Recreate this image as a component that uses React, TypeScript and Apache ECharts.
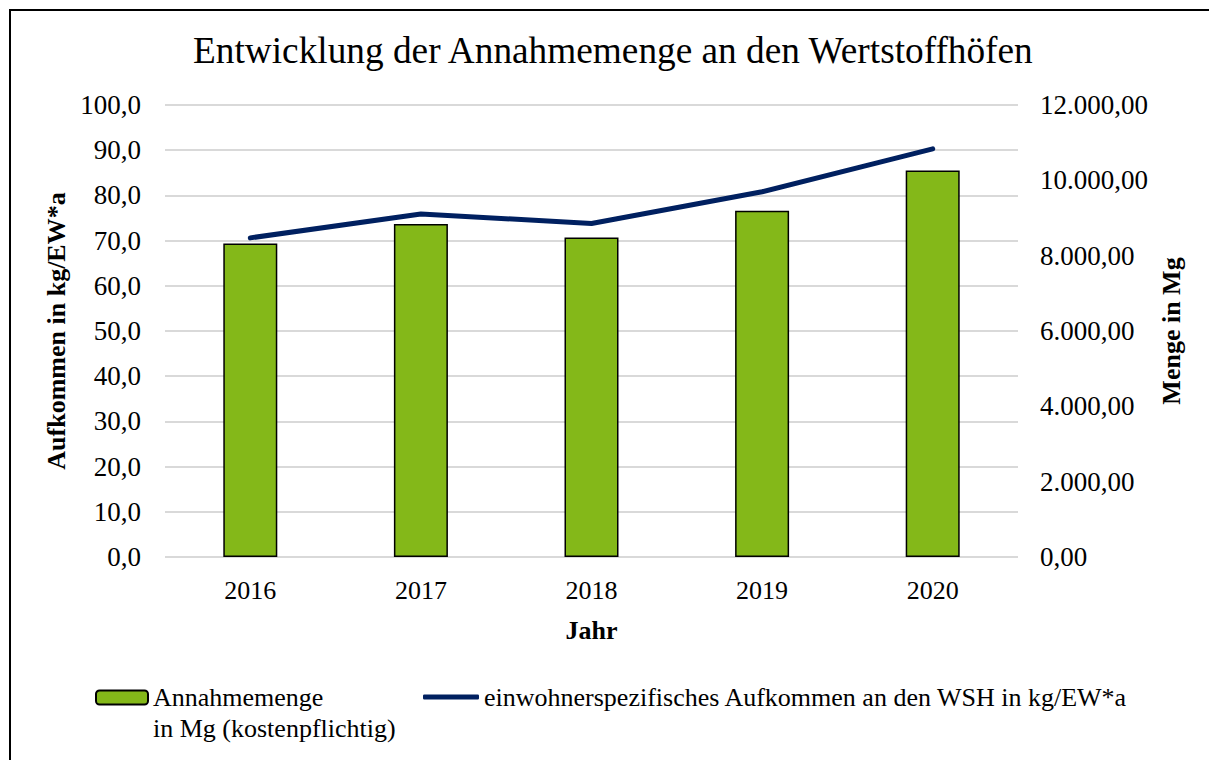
import React, { useEffect, useRef } from "react";
import * as echarts from "echarts";

const years = ["2016", "2017", "2018", "2019", "2020"];
const mengeMg = [8320, 8840, 8480, 9190, 10260];
const aufkommen = [70.6, 75.9, 73.8, 80.8, 90.3];
const barName = "Annahmemenge\nin Mg (kostenpflichtig)";
const lineName = "einwohnerspezifisches Aufkommen an den WSH in kg/EW*a";

const FONT = "Liberation Serif";

function fmtDe(v: number, dec: number) {
  const s = v.toFixed(dec);
  const [i, d] = s.split(".");
  const ii = i.replace(/\B(?=(\d{3})+(?!\d))/g, ".");
  return d !== undefined ? ii + "," + d : ii;
}

export default function App() {
  const ref = useRef<HTMLDivElement>(null);
  useEffect(() => {
    document.body.style.margin = "0";
    const chart = echarts.init(ref.current!, undefined, { renderer: "svg" });
    chart.setOption({
      animation: false,
      backgroundColor: "#ffffff",
      textStyle: { fontFamily: FONT, color: "#000" },
      title: {
        text: "Entwicklung der Annahmemenge an den Wertstoffhöfen",
        left: 188,
        top: 27,
        textStyle: { fontFamily: FONT, fontSize: 37.3, fontWeight: "normal", color: "#000" },
      },
      graphic: [
        {
          type: "polyline",
          shape: { points: [[1300, 10], [10, 10], [10, 800]] },
          style: { fill: "none", stroke: "#000", lineWidth: 2 },
          silent: true,
        },
      ],
      legend: [
        {
          left: 95,
          top: 651,
          padding: 0,
          itemWidth: 52,
          itemHeight: 14,
          data: [{ name: barName }],
          formatter: (n: string) => "\u00a0\n" + n,
          textStyle: {
            fontFamily: FONT,
            fontSize: 26,
            color: "#000",
            lineHeight: 31,
          },
        },
        {
          left: 423,
          top: 684,
          padding: 0,
          itemWidth: 56,
          itemHeight: 5,
          data: [
            {
              name: lineName,
              icon: "roundRect",
              itemStyle: { color: "#002060" },
            },
          ],
          textStyle: { fontFamily: FONT, fontSize: 26, color: "#000" },
        },
      ],
      grid: { left: 165, right: 191, top: 105, bottom: 203, containLabel: false },
      xAxis: {
        type: "category",
        data: years,
        name: "Jahr",
        nameLocation: "middle",
        nameGap: 60,
        nameTextStyle: { fontFamily: FONT, fontSize: 26, fontWeight: "bold", color: "#000" },
        axisLine: { show: false },
        axisTick: { show: false },
        axisLabel: { fontFamily: FONT, fontSize: 26, color: "#000", margin: 20 },
      },
      yAxis: [
        {
          type: "value",
          min: 0,
          max: 100,
          interval: 10,
          position: "left",
          name: "Aufkommen in kg/EW*a",
          nameLocation: "middle",
          nameGap: 90,
          nameRotate: 90,
          nameTextStyle: { fontFamily: FONT, fontSize: 26, fontWeight: "bold", color: "#000" },
          axisLine: { show: false },
          axisTick: { show: false },
          axisLabel: {
            fontFamily: FONT,
            fontSize: 27,
            color: "#000",
            margin: 24,
            formatter: (v: number) => fmtDe(v, 1),
          },
          splitLine: { show: true, lineStyle: { color: "#d9d9d9", width: 2 } },
        },
        {
          type: "value",
          min: 0,
          max: 12000,
          interval: 2000,
          position: "right",
          name: "Menge in Mg",
          nameLocation: "middle",
          nameGap: 138,
          nameRotate: 90,
          nameTextStyle: { fontFamily: FONT, fontSize: 26, fontWeight: "bold", color: "#000" },
          axisLine: { show: false },
          axisTick: { show: false },
          axisLabel: {
            fontFamily: FONT,
            fontSize: 27,
            color: "#000",
            margin: 22,
            formatter: (v: number) => fmtDe(v, 2),
          },
          splitLine: { show: false },
        },
      ],
      series: [
        {
          name: barName,
          type: "bar",
          yAxisIndex: 1,
          data: mengeMg,
          barWidth: 54,
          itemStyle: { color: "#84B819", borderColor: "#000", borderWidth: 1.5 },
        },
        {
          name: lineName,
          type: "line",
          yAxisIndex: 0,
          data: aufkommen,
          symbol: "none",
          lineStyle: { color: "#002060", width: 5, cap: "round" },
          itemStyle: { color: "#002060" },
        },
      ],
    });
    return () => chart.dispose();
  }, []);
  return <div ref={ref} style={{ width: 1209, height: 760 }} />;
}
